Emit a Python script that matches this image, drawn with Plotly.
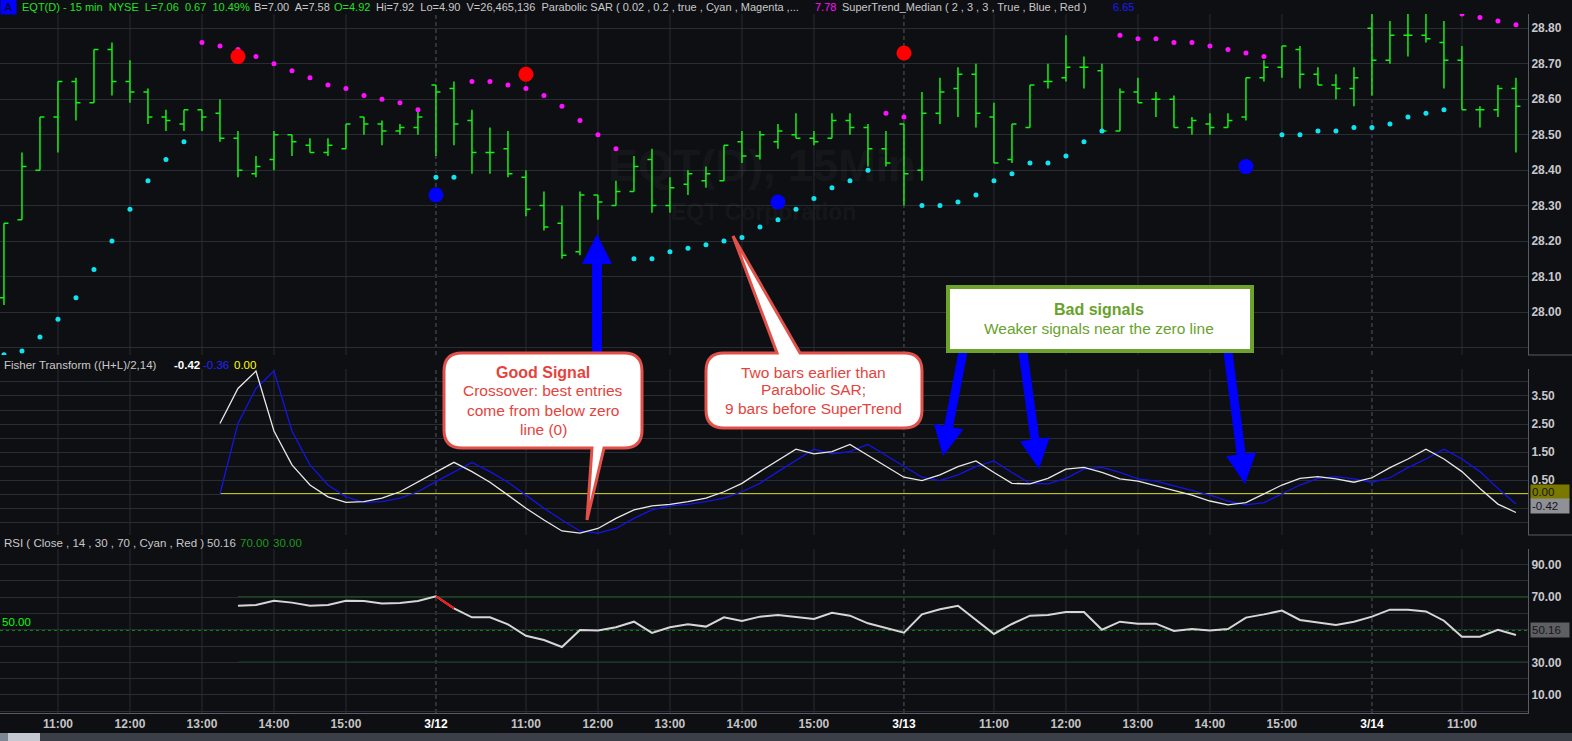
import plotly.graph_objects as go

# EQT 15 min bars, 3/11 10:15 -> 3/14 11:45 (x axis = bar number)
opens = [28.04, 28.26, 28.40, 28.55, 28.65, 28.59, 28.74, 28.65, 28.62, 28.55,
         28.53, 28.57, 28.56, 28.49, 28.39, 28.43, 28.50, 28.47, 28.45, 28.46,
         28.55, 28.53, 28.51, 28.52, 28.64, 28.63, 28.54, 28.45, 28.46, 28.38,
         28.30, 28.25, 28.17, 28.33, 28.30, 28.34, 28.43, 28.30, 28.36, 28.37,
         28.37, 28.48, 28.44, 28.48, 28.50, 28.49, 28.49, 28.54, 28.52, 28.46,
         28.53, 28.40, 28.56, 28.63, 28.67, 28.55, 28.43, 28.52, 28.65, 28.66,
         28.69, 28.68, 28.51, 28.62, 28.60, 28.60, 28.52, 28.53, 28.52, 28.55,
         28.66, 28.69, 28.74, 28.67, 28.64, 28.63, 28.80, 28.71, 28.78, 28.78,
         28.76, 28.71, 28.57, 28.57, 28.63]
highs = [28.25, 28.45, 28.55, 28.65, 28.66, 28.74, 28.76, 28.71, 28.63, 28.57,
         28.57, 28.57, 28.60, 28.51, 28.44, 28.51, 28.50, 28.49, 28.49, 28.53,
         28.55, 28.54, 28.53, 28.57, 28.64, 28.65, 28.57, 28.52, 28.51, 28.40,
         28.34, 28.30, 28.34, 28.33, 28.37, 28.44, 28.46, 28.38, 28.40, 28.41,
         28.47, 28.51, 28.51, 28.53, 28.56, 28.51, 28.56, 28.56, 28.53, 28.51,
         28.53, 28.62, 28.66, 28.69, 28.70, 28.59, 28.53, 28.64, 28.70, 28.78,
         28.72, 28.70, 28.63, 28.66, 28.62, 28.61, 28.55, 28.56, 28.56, 28.66,
         28.71, 28.75, 28.75, 28.69, 28.67, 28.69, 28.84, 28.82, 28.84, 28.84,
         28.82, 28.75, 28.58, 28.64, 28.66]
lows = [28.02, 28.26, 28.40, 28.45, 28.54, 28.59, 28.61, 28.59, 28.53, 28.51,
        28.51, 28.51, 28.48, 28.38, 28.38, 28.40, 28.44, 28.45, 28.44, 28.46,
        28.50, 28.47, 28.50, 28.50, 28.44, 28.47, 28.39, 28.39, 28.38, 28.27,
        28.23, 28.15, 28.16, 28.26, 28.30, 28.34, 28.28, 28.28, 28.33, 28.35,
        28.37, 28.42, 28.43, 28.46, 28.49, 28.47, 28.49, 28.50, 28.41, 28.41,
        28.30, 28.37, 28.53, 28.55, 28.52, 28.42, 28.42, 28.52, 28.63, 28.65,
        28.63, 28.51, 28.51, 28.59, 28.55, 28.52, 28.50, 28.50, 28.52, 28.54,
        28.65, 28.66, 28.63, 28.64, 28.60, 28.58, 28.61, 28.70, 28.72, 28.76,
        28.63, 28.57, 28.52, 28.55, 28.45]
closes = [28.25, 28.41, 28.55, 28.65, 28.59, 28.74, 28.65, 28.62, 28.55, 28.54,
          28.57, 28.55, 28.49, 28.40, 28.41, 28.50, 28.48, 28.45, 28.47, 28.53,
          28.53, 28.51, 28.52, 28.55, 28.62, 28.53, 28.45, 28.45, 28.39, 28.29,
          28.24, 28.16, 28.33, 28.31, 28.34, 28.41, 28.30, 28.35, 28.39, 28.39,
          28.47, 28.44, 28.50, 28.51, 28.49, 28.48, 28.54, 28.52, 28.46, 28.42,
          28.39, 28.56, 28.62, 28.67, 28.56, 28.42, 28.53, 28.64, 28.65, 28.69,
          28.69, 28.51, 28.62, 28.59, 28.60, 28.52, 28.54, 28.52, 28.54, 28.66,
          28.69, 28.75, 28.67, 28.64, 28.63, 28.66, 28.71, 28.78, 28.78, 28.77,
          28.71, 28.57, 28.57, 28.63, 28.58]

N = None
# Parabolic SAR, split by colour (cyan below price, magenta above)
sar_cyan = [27.88, 27.89, 27.93, 27.98, 28.04, 28.12, 28.20, 28.29, 28.37, 28.43,
            28.48, N, N, N, N, N, N, N, N, N,
            N, N, N, N, 28.38, 28.38, N, N, N, N,
            N, N, N, N, N, 28.15, 28.15, 28.17, 28.18, 28.19,
            28.20, 28.21, 28.24, 28.26, 28.29, 28.32, 28.35, 28.37, 28.40, N,
            N, 28.30, 28.30, 28.31, 28.33, 28.37, 28.39, 28.42, 28.42, 28.44,
            28.48, 28.51, N, N, N, N, N, N, N, N,
            N, 28.50, 28.50, 28.51, 28.51, 28.52, 28.52, 28.53, 28.55, 28.56,
            28.57, N, N, N, N]
sar_magenta = [N, N, N, N, N, N, N, N, N, N,
               N, 28.76, 28.75, 28.74, 28.72, 28.70, 28.68, 28.66, 28.64, 28.63,
               28.61, 28.60, 28.59, 28.57, N, N, 28.65, 28.65, 28.64, 28.63,
               28.61, 28.58, 28.54, 28.50, 28.46, N, N, N, N, N,
               N, N, N, N, N, N, N, N, N, 28.56,
               28.55, N, N, N, N, N, N, N, N, N,
               N, N, 28.78, 28.77, 28.77, 28.76, 28.76, 28.75, 28.74, 28.73,
               28.72, N, N, N, N, N, N, N, N, N,
               N, 28.84, 28.83, 28.82, 28.81]

# SuperTrend flips
st_red_bars = [13, 29, 50]
st_red_vals = [28.72, 28.67, 28.73]
st_blue_bars = [24, 43, 69]
st_blue_vals = [28.33, 28.31, 28.41]

# Fisher Transform ((H+L)/2,14) and its trigger, from bar 12
fisher_start = 12
fisher = [2.52, 3.77, 4.39, 2.25, 1.04, 0.32, -0.10, -0.30, -0.27, -0.15,
          0.08, 0.44, 0.80, 1.13, 0.80, 0.42, -0.04, -0.51, -0.93, -1.32,
          -1.40, -1.23, -0.87, -0.57, -0.42, -0.37, -0.27, -0.15, 0.08, 0.38,
          0.80, 1.21, 1.60, 1.43, 1.51, 1.77, 1.39, 1.00, 0.60, 0.48,
          0.68, 0.98, 1.18, 0.77, 0.38, 0.36, 0.56, 0.89, 0.95, 0.77,
          0.54, 0.46, 0.30, 0.14, -0.04, -0.25, -0.39, -0.31, 0.00, 0.32,
          0.56, 0.62, 0.54, 0.42, 0.58, 0.94, 1.25, 1.60, 1.25, 0.80,
          0.20, -0.36, -0.66]
trigger = [0.00, 2.52, 3.77, 4.39, 2.25, 1.04, 0.32, -0.10, -0.30, -0.27,
           -0.15, 0.08, 0.44, 0.80, 1.13, 0.80, 0.42, -0.04, -0.51, -0.93,
           -1.32, -1.40, -1.23, -0.87, -0.57, -0.42, -0.37, -0.27, -0.15, 0.08,
           0.38, 0.80, 1.21, 1.60, 1.43, 1.51, 1.77, 1.39, 1.00, 0.60,
           0.48, 0.68, 0.98, 1.18, 0.77, 0.38, 0.36, 0.56, 0.89, 0.95,
           0.77, 0.54, 0.46, 0.30, 0.14, -0.04, -0.25, -0.39, -0.31, 0.00,
           0.32, 0.56, 0.62, 0.54, 0.42, 0.58, 0.94, 1.25, 1.60, 1.25,
           0.80, 0.20, -0.36]
fisher_zero = 0.0

# RSI(14), from bar 13
rsi_start = 13
rsi = [64.7, 65.1, 67.8, 66.6, 64.7, 65.1, 67.8, 67.6, 66.0, 66.4,
       67.6, 70.5, 63.1, 57.6, 57.6, 53.3, 46.3, 43.7, 39.4, 49.8,
       49.5, 51.5, 54.9, 48.0, 51.5, 53.3, 51.9, 57.6, 55.3, 58.0,
       59.0, 57.6, 56.6, 60.4, 58.6, 53.9, 50.9, 48.2, 59.4, 62.5,
       64.7, 56.0, 47.4, 53.5, 58.6, 59.0, 60.9, 60.9, 50.0, 54.9,
       53.7, 53.7, 49.2, 50.4, 49.5, 50.4, 57.4, 59.4, 61.7, 56.0,
       54.3, 52.9, 54.9, 58.0, 62.3, 62.3, 61.2, 55.5, 45.7, 45.7,
       50.0, 46.7]
rsi_levels = [70, 30]
rsi_mid = 50

# time axis
tick_pos = [3, 7, 11, 15, 19, 24, 29, 33, 37, 41, 45, 50, 55, 59, 63, 67, 71, 76, 81]
tick_text = ['11:00', '12:00', '13:00', '14:00', '15:00', '3/12', '11:00', '12:00', '13:00',
             '14:00', '15:00', '3/13', '11:00', '12:00', '13:00', '14:00', '15:00', '3/14', '11:00']

price_grid = [27.9, 28.0, 28.1, 28.2, 28.3, 28.4, 28.5, 28.6, 28.7, 28.8]
fisher_grid = [-1.0, -0.5, 0.0, 0.5, 1.0, 1.5, 2.0, 2.5, 3.0, 3.5, 4.0]
fisher_labels = [0.5, 1.5, 2.5, 3.5]
rsi_grid = [0, 10, 20, 30, 40, 50, 60, 70, 80, 90]
rsi_labels = [10, 30, 70, 90]

# ---------------- look ----------------
BG = '#0e0f13'
GRID = '#2a2c33'
DAYLINE = '#555861'
AXIS = '#585b63'
GREEN = '#14f014'
HGREEN = '#22e022'
GRAY = '#c9c9c9'
LABEL = '#c8c8cc'
RED_TXT = '#e4443d'
NARROW = 'Liberation Sans Narrow, Arial Narrow, Liberation Sans, Arial, sans-serif'
SANS = 'Liberation Sans, Arial, sans-serif'

PW, PB = 1528, 713   # plot area width / height in px


def px(x):
    return x / PW


def py(y):
    return (PB - y) / PB


def dom(top, bot):
    return [py(bot), py(top)]


bars = list(range(len(opens)))
XR = [-0.22, len(opens) - 0.33]

fig = go.Figure()
fig.add_trace(go.Ohlc(x=bars, open=opens, high=highs, low=lows, close=closes,
                      increasing=dict(line=dict(color=GREEN, width=1.5)),
                      decreasing=dict(line=dict(color=GREEN, width=1.5)),
                      tickwidth=0.25, hoverinfo='skip', xaxis='x', yaxis='y'))
fig.add_trace(go.Scatter(x=bars, y=sar_cyan, mode='markers', xaxis='x', yaxis='y',
                         marker=dict(color='#10e4f0', size=5)))
fig.add_trace(go.Scatter(x=bars, y=sar_magenta, mode='markers', xaxis='x', yaxis='y',
                         marker=dict(color='#ff10ff', size=5)))
fig.add_trace(go.Scatter(x=st_red_bars, y=st_red_vals, mode='markers', xaxis='x', yaxis='y',
                         marker=dict(color='#ff0000', size=15)))
fig.add_trace(go.Scatter(x=st_blue_bars, y=st_blue_vals, mode='markers', xaxis='x', yaxis='y',
                         marker=dict(color='#0000ff', size=15)))

fx = list(range(fisher_start, fisher_start + len(fisher)))
fig.add_trace(go.Scatter(x=fx, y=trigger, mode='lines', xaxis='x2', yaxis='y2',
                         line=dict(color='#1414e6', width=1.3)))
fig.add_trace(go.Scatter(x=fx, y=fisher, mode='lines', xaxis='x2', yaxis='y2',
                         line=dict(color='#e8e8e8', width=1.3)))

rx = list(range(rsi_start, rsi_start + len(rsi)))
fig.add_trace(go.Scatter(x=rx, y=rsi, mode='lines', xaxis='x3', yaxis='y3',
                         line=dict(color='#d6d6d6', width=2)))
# segments that leave the overbought zone are painted red
for i in range(len(rsi) - 1):
    if rsi[i] > rsi_levels[0]:
        fig.add_trace(go.Scatter(x=rx[i:i + 2], y=rsi[i:i + 2], mode='lines', xaxis='x3',
                                 yaxis='y3', line=dict(color='#ff1010', width=2)))


def yax(domain, rng, vals, text, anchor):
    return dict(domain=domain, range=rng, side='right', anchor=anchor,
                tickvals=vals, ticktext=text, showgrid=True, gridcolor=GRID,
                zeroline=False, showline=True, linecolor=AXIS, ticks='',
                tickfont=dict(family=NARROW, size=12, color=LABEL, weight='bold'))


def xax(anchor):
    return dict(domain=[0, 1], range=XR, anchor=anchor, showgrid=False, zeroline=False,
                showticklabels=False, ticks='')


tick_lbl = [f'<span style="color:#ffffff">{t}</span>' if '/' in t else t for t in tick_text]
xa3 = xax('y3')
xa3.update(showticklabels=True, tickvals=tick_pos, ticktext=tick_lbl, showline=True,
           linecolor=AXIS, tickfont=dict(family=NARROW, size=12, color='#c4c4c4', weight='bold'))
xa1 = xax('y')
xa1['rangeslider'] = dict(visible=False)

fig.update_layout(
    width=1572, height=741, autosize=False,
    margin=dict(l=0, r=44, t=0, b=28),
    paper_bgcolor=BG, plot_bgcolor=BG,
    showlegend=False, hovermode=False,
    xaxis=xa1, xaxis2=xax('y2'), xaxis3=xa3,
    yaxis=yax(dom(14, 355), [27.879, 28.84], price_grid,
              ['' if v < 27.95 else f'{v:.2f}' for v in price_grid], 'x'),
    yaxis2=yax(dom(369, 535), [-1.464, 4.464], fisher_grid,
               [f'{v:.2f}' if v in fisher_labels else '' for v in fisher_grid], 'x2'),
    yaxis3=yax(dom(549, 713), [-1.1, 99.5], rsi_grid,
               [f'{v:.2f}' if v in rsi_labels else '' for v in rsi_grid], 'x3'),
)

shapes = []
# vertical hour / day lines in every pane
for xr, yr in [('x', 'y domain'), ('x2', 'y2 domain'), ('x3', 'y3 domain')]:
    for pos, lbl in zip(tick_pos, tick_text):
        day = '/' in lbl
        shapes.append(dict(type='line', xref=xr, yref=yr, x0=pos, x1=pos, y0=0, y1=1, layer='below',
                           line=dict(color=DAYLINE if day else GRID, width=1,
                                     dash='4px,3px' if day else 'solid')))
shapes.append(dict(type='line', xref='x2', yref='y2', x0=fisher_start, x1=XR[1],
                   y0=fisher_zero, y1=fisher_zero, layer='below', line=dict(color='#ffff00', width=1.3)))
for lv in rsi_levels:
    shapes.append(dict(type='line', xref='x3', yref='y3', x0=rsi_start, x1=XR[1], y0=lv, y1=lv,
                       layer='below', line=dict(color='#138a13', width=1.3)))
shapes.append(dict(type='line', xref='x3', yref='y3', x0=XR[0], x1=XR[1], y0=rsi_mid, y1=rsi_mid,
                   layer='below', line=dict(color='#00ff00', width=1.5, dash='dot')))
# pane separators in the price-scale column
for yy in [355, 535]:
    shapes.append(dict(type='line', xref='paper', yref='paper', x0=px(1528), x1=px(1572),
                       y0=py(yy), y1=py(yy), line=dict(color=AXIS, width=1)))
# scroll bar at the bottom
shapes.append(dict(type='rect', xref='paper', yref='paper', x0=0, x1=px(1572), y0=py(741), y1=py(733),
                   fillcolor='#3a3f48', line=dict(width=0)))
shapes.append(dict(type='rect', xref='paper', yref='paper', x0=px(8), x1=px(40), y0=py(741), y1=py(733),
                   fillcolor='#c4c8d0', line=dict(width=0)))
shapes.append(dict(type='rect', xref='paper', yref='paper', x0=0, x1=px(8), y0=py(741), y1=py(733),
                   fillcolor='#7d8794', line=dict(width=0)))


def P(x, y):
    return f'{px(x):.5f},{py(y):.5f}'


def arrow_path(x0, y0, x1, y1, shaft=9, head_w=30, head_l=30):
    dx, dy = x1 - x0, y1 - y0
    ln = (dx * dx + dy * dy) ** 0.5
    ux, uy = dx / ln, dy / ln
    nx, ny = -uy, ux
    bx, by = x1 - ux * head_l, y1 - uy * head_l
    pts = [(x0 + nx * shaft / 2, y0 + ny * shaft / 2), (bx + nx * shaft / 2, by + ny * shaft / 2),
           (bx + nx * head_w / 2, by + ny * head_w / 2), (x1, y1),
           (bx - nx * head_w / 2, by - ny * head_w / 2), (bx - nx * shaft / 2, by - ny * shaft / 2),
           (x0 - nx * shaft / 2, y0 - ny * shaft / 2)]
    return 'M' + 'L'.join(P(x, y) for x, y in pts) + 'Z'


def bubble_path(x0, y0, x1, y1, r, side, ba, bb, tip):
    d = 'M' + P(x0 + r, y0)
    if side == 'top':
        d += 'L' + P(ba, y0) + 'L' + P(*tip) + 'L' + P(bb, y0)
    d += 'L' + P(x1 - r, y0) + 'Q' + P(x1, y0) + ' ' + P(x1, y0 + r)
    d += 'L' + P(x1, y1 - r) + 'Q' + P(x1, y1) + ' ' + P(x1 - r, y1)
    if side == 'bottom':
        d += 'L' + P(bb, y1) + 'L' + P(*tip) + 'L' + P(ba, y1)
    d += 'L' + P(x0 + r, y1) + 'Q' + P(x0, y1) + ' ' + P(x0, y1 - r)
    d += 'L' + P(x0, y0 + r) + 'Q' + P(x0, y0) + ' ' + P(x0 + r, y0) + 'Z'
    return d


for a in [(597, 354, 597, 234, 10), (963, 352, 943, 456, 9), (1023, 352, 1039, 469, 9),
          (1228, 352, 1245, 484, 9)]:
    shapes.append(dict(type='path', xref='paper', yref='paper', path=arrow_path(*a[:4], shaft=a[4]),
                       fillcolor='#0000ff', line=dict(width=0)))
shapes.append(dict(type='path', xref='paper', yref='paper', fillcolor='#ffffff',
                   path=bubble_path(444, 353, 642, 448, 18, 'bottom', 592, 604, (587, 520)),
                   line=dict(color='#e2504a', width=3)))
shapes.append(dict(type='path', xref='paper', yref='paper', fillcolor='#ffffff',
                   path=bubble_path(706, 353, 922, 428, 18, 'top', 777, 800, (733, 236)),
                   line=dict(color='#e2504a', width=3)))
shapes.append(dict(type='rect', xref='paper', yref='paper', x0=px(948), x1=px(1252), y0=py(351),
                   y1=py(287), fillcolor='#ffffff', line=dict(color='#6ea22f', width=4)))

notes = []


def text(x, y, s, color, size=11.5, bold=False, anchor='left', family=SANS, **kw):
    notes.append(dict(xref='paper', yref='paper', x=px(x), y=py(y), xanchor=anchor, yanchor='middle',
                      text=s, showarrow=False,
                      font=dict(family=family, size=size, color=color,
                                weight='bold' if bold else 'normal'), **kw))


# header rows
text(0, 7, 'A', '#000000', size=11, bgcolor='#0000ff', width=13, height=13)
text(20, 7, 'EQT(D) - 15 min  NYSE  L=7.06  0.67  10.49%', HGREEN, size=11)
text(252, 7, 'B=7.00  A=7.58', GRAY, size=11)
text(332, 7, 'O=4.92', HGREEN, size=11)
text(374, 7, 'Hi=7.92  Lo=4.90  V=26,465,136  Parabolic SAR ( 0.02 , 0.2 , true , Cyan , Magenta ,...',
     GRAY, size=11)
text(813, 7, '7.78', '#ff10ff', size=11)
text(840, 7, 'SuperTrend_Median ( 2 , 3 , 3 , True , Blue , Red )', GRAY, size=11)
text(1111, 7, '6.65', '#1a1aff', size=11)

text(2, 365, 'Fisher Transform ((H+L)/2,14)', GRAY)
text(172, 365, '-0.42', '#ffffff', bold=True)
text(201, 365, '-0.36', '#2222ff')
text(232, 365, '0.00', '#ffff00')

text(2, 543, 'RSI ( Close , 14 , 30 , 70 , Cyan , Red )', GRAY)
text(205, 543, '50.16', GRAY)
text(238, 543, '70.00', '#1c9a1c')
text(271, 543, '30.00', '#1c9a1c')
text(0, 622, '50.00', '#00ff00', size=11.5, family=NARROW)

# current value tags on the scale
for yy, s, bg in [(492, '0.00', '#7b7800'), (506, '-0.42', '#8f9197'), (630, '50.16', '#5e5f63')]:
    text(1530, yy, s, '#15161a', size=11.5, family=NARROW, bgcolor=bg, width=36, height=12,
         align='left')

# watermark
text(762, 165, 'EQT(D), 15Min', 'rgba(255,255,255,0.055)', size=45, bold=True, anchor='center')
text(763, 212, 'EQT Corporation', 'rgba(255,255,255,0.055)', size=23, bold=True, anchor='center')

# callouts
text(543, 372, 'Good Signal', RED_TXT, size=16, bold=True, anchor='center')
for yy, s in [(391, 'Crossover: best entries'), (410, 'come from below zero'), (429, 'line (0)')]:
    text(543, yy, s, RED_TXT, size=15.5, anchor='center')
for yy, s in [(372, 'Two bars earlier than'), (390, 'Parabolic SAR;'), (408, '9 bars before SuperTrend')]:
    text(813, yy, s, RED_TXT, size=15.5, anchor='center')
text(1099, 309, 'Bad signals', '#68a22c', size=16, bold=True, anchor='center')
text(1099, 328, 'Weaker signals near the zero line', '#68a22c', size=15.5, anchor='center')

fig.update_layout(shapes=shapes, annotations=notes)
# no tool bar, and no white page frame around the chart
fig.write_html("out.html", config={'displayModeBar': False},
               post_script="document.body.style.margin='0';")
